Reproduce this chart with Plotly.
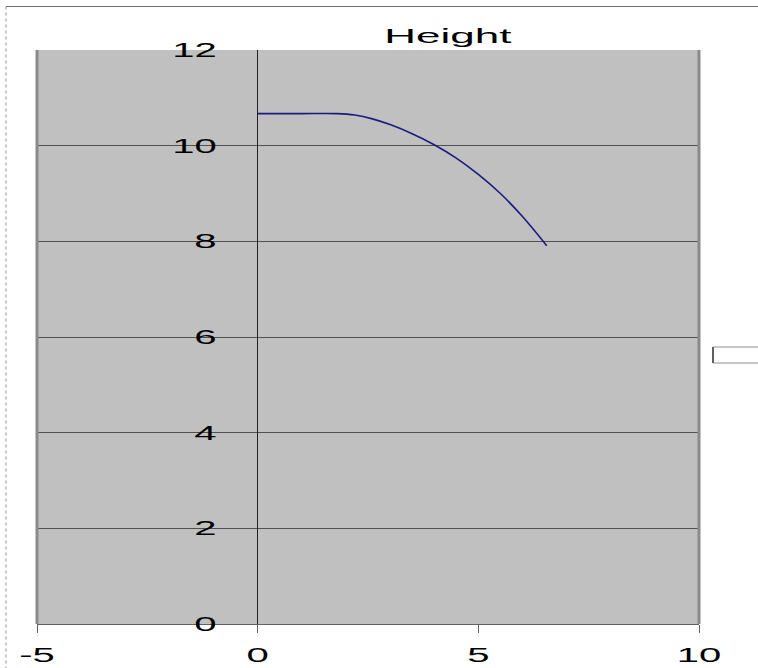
import plotly.graph_objects as go

# Data
dist = [0.0, 1.0, 1.8, 2.2, 2.6, 3.0, 3.5, 4.0, 4.5, 5.0, 5.5, 6.0, 6.55]
height = [10.67, 10.67, 10.67, 10.64, 10.56, 10.44, 10.25, 10.02, 9.74, 9.40, 9.00, 8.52, 7.91]

x_ticks = [-5, 0, 5, 10]
x_tick_labels = ["-5", "0", "5", "10"]
y_ticks = [0, 2, 4, 6, 8, 10, 12]
y_tick_labels = ["0", "2", "4", "6", "8", "10", "12"]
title_text = "Height"

W, H = 758, 668
L, R, T, B = 37, 59, 50, 44
pw, ph = W - L - R, H - T - B


def px_x(p):
    return (p - L) / pw


def px_y(p):
    return (H - B - p) / ph


FONT = "Liberation Sans, Arial, sans-serif"

fig = go.Figure()
fig.add_trace(go.Scatter(x=dist, y=height, mode="lines",
                         line=dict(color="#1a1a80", width=1.6, shape="spline", smoothing=1.0),
                         showlegend=False, hoverinfo="skip"))

fig.update_layout(
    width=W, height=H,
    margin=dict(l=L, r=R, t=T, b=B, pad=0, autoexpand=False),
    paper_bgcolor="white", plot_bgcolor="#c0c0c0",
    showlegend=False,
    font=dict(family=FONT, size=20, color="black"),
    xaxis=dict(range=[-5, 10], tickvals=x_ticks, ticktext=x_tick_labels, showgrid=False,
               zeroline=True, zerolinecolor="#202020", zerolinewidth=1,
               showline=True, linecolor="#606060", linewidth=1,
               ticks="outside", ticklen=8, tickcolor="#606060", tickwidth=1,
               ticklabelstandoff=5, automargin=False,
               tickfont=dict(family=FONT, size=20, color="black"),
               fixedrange=True),
    yaxis=dict(range=[0, 12], tickvals=y_ticks, ticktext=y_tick_labels, showgrid=True,
               gridcolor="#505050", gridwidth=1, zeroline=False,
               anchor="free", position=1/3, side="left",
               showline=False, ticks="", ticklabelstandoff=41, automargin=False,
               tickfont=dict(family=FONT, size=20, color="black"),
               fixedrange=True),
)

shapes = [
    # plot border (left/right darker)
    dict(type="line", xref="x domain", yref="y domain", x0=0, x1=0, y0=0, y1=1,
         line=dict(color="#8a8a8a", width=3)),
    dict(type="line", xref="x domain", yref="y domain", x0=1, x1=1, y0=0, y1=1,
         line=dict(color="#8a8a8a", width=3)),
    # outer chart area borders
    dict(type="line", xref="paper", yref="paper", x0=px_x(6), x1=px_x(W + 5),
         y0=px_y(6.5), y1=px_y(6.5), line=dict(color="#707070", width=1)),
    dict(type="line", xref="paper", yref="paper", x0=px_x(6), x1=px_x(6),
         y0=px_y(6.5), y1=px_y(H + 5), line=dict(color="#909090", width=1, dash="dot")),
    # empty legend box
    dict(type="rect", xref="paper", yref="paper", x0=px_x(713), x1=px_x(W + 5),
         y0=px_y(363), y1=px_y(347), line=dict(color="#909090", width=1),
         fillcolor="white"),
    dict(type="line", xref="paper", yref="paper", x0=px_x(713), x1=px_x(713),
         y0=px_y(363), y1=px_y(347), line=dict(color="#606060", width=2)),
]
fig.update_layout(shapes=shapes)

fig.add_annotation(text=title_text, xref="paper", yref="paper",
                   x=px_x(448), y=px_y(36), xanchor="center", yanchor="middle",
                   showarrow=False, font=dict(family=FONT, size=20, color="black"))

post = """
document.body.style.margin = '0';
(function(){
  var gd = document.getElementById('{plot_id}');
  function stretch(sel, k){
    gd.querySelectorAll(sel).forEach(function(t){
      var w = t.getComputedTextLength();
      t.setAttribute('textLength', (w * k).toFixed(1));
      t.setAttribute('lengthAdjust', 'spacingAndGlyphs');
    });
  }
  stretch('.xtick text', 2.0);
  stretch('.ytick text', 2.0);
  stretch('.annotation-text', 2.2);
})();
"""

fig.write_html("out.html", post_script=post, config={"displayModeBar": False})
